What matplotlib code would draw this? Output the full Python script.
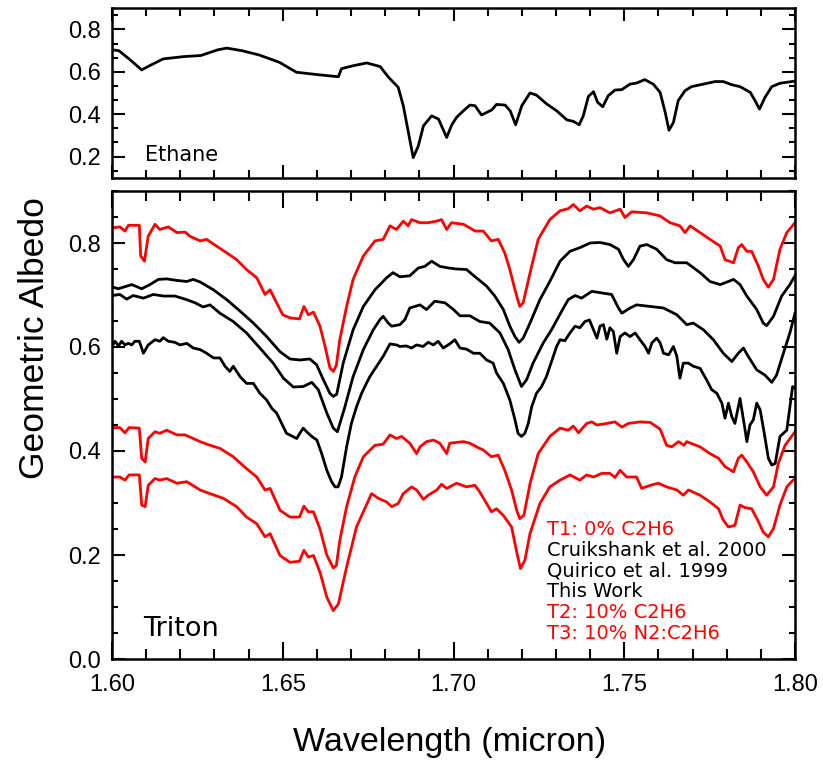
import numpy as np
import matplotlib
matplotlib.use("Agg")
import matplotlib.pyplot as plt
from matplotlib.ticker import MultipleLocator, AutoMinorLocator

ethane = [(1.600, 0.704), (1.602, 0.700), (1.605, 0.661), (1.6087, 0.609), (1.611, 0.629),
          (1.615, 0.661), (1.621, 0.672), (1.626, 0.677), (1.631, 0.704), (1.6336, 0.712),
          (1.638, 0.700), (1.643, 0.680), (1.649, 0.645), (1.654, 0.598), (1.660, 0.587),
          (1.6655, 0.578), (1.6663, 0.577), (1.6672, 0.615), (1.6707, 0.629), (1.6746, 0.642),
          (1.6785, 0.625), (1.681, 0.574), (1.6838, 0.527), (1.6853, 0.440), (1.6868, 0.313),
          (1.6882, 0.195), (1.6897, 0.250), (1.6912, 0.345), (1.6936, 0.392), (1.6956, 0.377),
          (1.698, 0.290), (1.6995, 0.350), (1.7009, 0.385), (1.7029, 0.416), (1.7048, 0.443),
          (1.7063, 0.440), (1.7082, 0.396), (1.7097, 0.408), (1.7112, 0.420), (1.7126, 0.446),
          (1.7151, 0.443), (1.7166, 0.416), (1.7182, 0.350), (1.720, 0.440), (1.7224, 0.500),
          (1.7243, 0.490), (1.7273, 0.448), (1.7302, 0.416), (1.7332, 0.373), (1.7351, 0.366),
          (1.7368, 0.350), (1.738, 0.392), (1.7395, 0.484), (1.741, 0.506), (1.7422, 0.456),
          (1.7437, 0.435), (1.7453, 0.487), (1.7473, 0.514), (1.7493, 0.516), (1.7517, 0.542),
          (1.7536, 0.547), (1.756, 0.563), (1.7585, 0.542), (1.7605, 0.503), (1.762, 0.408),
          (1.7631, 0.324), (1.7644, 0.361), (1.7658, 0.464), (1.7678, 0.511), (1.7697, 0.530),
          (1.7732, 0.542), (1.7766, 0.554), (1.779, 0.554), (1.7815, 0.539), (1.7839, 0.530),
          (1.7869, 0.503), (1.7883, 0.464), (1.7896, 0.424), (1.7912, 0.479), (1.7932, 0.530),
          (1.7956, 0.546), (1.7995, 0.555), (1.800, 0.556)]

t1 = [(1.600, 0.829), (1.6023, 0.831), (1.6038, 0.823), (1.6048, 0.834), (1.608, 0.834),
      (1.6084, 0.775), (1.6095, 0.765), (1.6106, 0.813), (1.6126, 0.836), (1.614, 0.826),
      (1.6165, 0.831), (1.619, 0.820), (1.6214, 0.821), (1.6228, 0.813), (1.6258, 0.804),
      (1.6277, 0.807), (1.6306, 0.794), (1.6336, 0.781), (1.6365, 0.768), (1.6394, 0.749),
      (1.6424, 0.733), (1.6448, 0.701), (1.6463, 0.710), (1.6482, 0.685), (1.650, 0.662),
      (1.6521, 0.656), (1.6549, 0.654), (1.6562, 0.678), (1.6575, 0.662), (1.659, 0.667),
      (1.6609, 0.640), (1.6624, 0.601), (1.6638, 0.560), (1.6648, 0.553), (1.6657, 0.565),
      (1.6667, 0.614), (1.6687, 0.678), (1.6706, 0.730), (1.6736, 0.775), (1.677, 0.804),
      (1.6794, 0.807), (1.6814, 0.833), (1.6833, 0.826), (1.6853, 0.842), (1.6867, 0.833),
      (1.6877, 0.845), (1.6902, 0.839), (1.6926, 0.839), (1.695, 0.842), (1.6965, 0.845),
      (1.698, 0.826), (1.6994, 0.839), (1.7029, 0.836), (1.7048, 0.829), (1.7063, 0.823),
      (1.7087, 0.823), (1.7111, 0.804), (1.7131, 0.807), (1.715, 0.781), (1.7165, 0.749),
      (1.718, 0.710), (1.7194, 0.678), (1.7204, 0.685), (1.7224, 0.742), (1.7248, 0.807),
      (1.7282, 0.845), (1.7312, 0.862), (1.7336, 0.866), (1.7351, 0.874), (1.737, 0.862),
      (1.739, 0.871), (1.741, 0.865), (1.7429, 0.868), (1.7458, 0.858), (1.7488, 0.865),
      (1.7502, 0.849), (1.7522, 0.860), (1.7566, 0.858), (1.7605, 0.852), (1.7634, 0.839),
      (1.7663, 0.833), (1.7678, 0.820), (1.7693, 0.833), (1.7722, 0.820), (1.7751, 0.807),
      (1.7781, 0.794), (1.7795, 0.768), (1.782, 0.762), (1.7834, 0.791), (1.7844, 0.797),
      (1.7859, 0.784), (1.7873, 0.784), (1.7893, 0.755), (1.7907, 0.730), (1.7922, 0.715),
      (1.7937, 0.730), (1.7956, 0.788), (1.7976, 0.820), (1.800, 0.839)]

cruikshank = [(1.600, 0.716), (1.6018, 0.712), (1.6038, 0.716), (1.6058, 0.720), (1.6087, 0.712),
              (1.6111, 0.720), (1.6136, 0.730), (1.616, 0.731), (1.619, 0.728), (1.6219, 0.726),
              (1.6238, 0.730), (1.6258, 0.725), (1.6297, 0.710), (1.6336, 0.691), (1.6375, 0.669),
              (1.6414, 0.646), (1.6453, 0.620), (1.6492, 0.591), (1.6521, 0.577), (1.655, 0.575),
              (1.6579, 0.577), (1.6599, 0.566), (1.6619, 0.537), (1.6638, 0.511), (1.6648, 0.505),
              (1.6658, 0.509), (1.6677, 0.569), (1.6706, 0.633), (1.6736, 0.678), (1.677, 0.710),
              (1.6804, 0.733), (1.6823, 0.743), (1.6843, 0.735), (1.6872, 0.737), (1.6897, 0.752),
              (1.6916, 0.755), (1.6936, 0.765), (1.696, 0.755), (1.6985, 0.752), (1.7009, 0.750),
              (1.7038, 0.749), (1.7067, 0.733), (1.7097, 0.717), (1.7121, 0.698), (1.7146, 0.672),
              (1.7165, 0.640), (1.718, 0.620), (1.7192, 0.609), (1.7204, 0.617), (1.7224, 0.646),
              (1.7253, 0.691), (1.7282, 0.726), (1.7312, 0.765), (1.7341, 0.784), (1.737, 0.791),
              (1.740, 0.800), (1.7429, 0.801), (1.7458, 0.797), (1.7483, 0.788), (1.7498, 0.768),
              (1.7512, 0.755), (1.7527, 0.768), (1.7546, 0.794), (1.7566, 0.797), (1.7595, 0.788),
              (1.7624, 0.768), (1.7649, 0.762), (1.7683, 0.762), (1.7722, 0.743), (1.7751, 0.726),
              (1.7781, 0.720), (1.7805, 0.726), (1.782, 0.730), (1.7839, 0.720), (1.7859, 0.698),
              (1.7888, 0.672), (1.7907, 0.646), (1.7917, 0.641), (1.7937, 0.659), (1.7961, 0.698),
              (1.7985, 0.720), (1.800, 0.737)]

quirico = [(1.600, 0.699), (1.6023, 0.701), (1.6043, 0.692), (1.6062, 0.699), (1.6092, 0.694),
           (1.6121, 0.701), (1.615, 0.698), (1.6184, 0.698), (1.6219, 0.691), (1.6243, 0.685),
           (1.6267, 0.677), (1.6287, 0.681), (1.6316, 0.665), (1.6355, 0.649), (1.6394, 0.627),
           (1.6433, 0.598), (1.6472, 0.569), (1.6502, 0.540), (1.6531, 0.523), (1.656, 0.524),
           (1.6585, 0.532), (1.6604, 0.518), (1.6629, 0.473), (1.6648, 0.444), (1.666, 0.437),
           (1.6682, 0.485), (1.6706, 0.543), (1.6736, 0.595), (1.6765, 0.633), (1.6785, 0.653),
           (1.6794, 0.659), (1.6809, 0.646), (1.6819, 0.640), (1.6843, 0.643), (1.6858, 0.653),
           (1.6872, 0.675), (1.6902, 0.681), (1.6921, 0.672), (1.6945, 0.688), (1.6975, 0.685),
           (1.700, 0.672), (1.7019, 0.660), (1.7048, 0.660), (1.7077, 0.649), (1.7106, 0.646),
           (1.7136, 0.627), (1.716, 0.595), (1.718, 0.556), (1.7199, 0.524), (1.7214, 0.537),
           (1.7233, 0.569), (1.7263, 0.608), (1.7287, 0.633), (1.7316, 0.668), (1.7336, 0.691),
           (1.7356, 0.699), (1.7375, 0.694), (1.7405, 0.707), (1.7434, 0.704), (1.7463, 0.701),
           (1.7483, 0.675), (1.7493, 0.665), (1.7517, 0.675), (1.7536, 0.681), (1.7576, 0.678),
           (1.7615, 0.675), (1.7654, 0.662), (1.7683, 0.643), (1.7702, 0.646), (1.7732, 0.633),
           (1.7761, 0.614), (1.779, 0.588), (1.7815, 0.572), (1.7834, 0.588), (1.7849, 0.598),
           (1.7863, 0.582), (1.7888, 0.556), (1.7912, 0.546), (1.7932, 0.532), (1.7946, 0.546),
           (1.7966, 0.588), (1.7985, 0.627), (1.800, 0.665)]

this_work = [(1.600, 0.601), (1.6009, 0.611), (1.6019, 0.602), (1.6028, 0.611), (1.6038, 0.604),
             (1.6048, 0.607), (1.6058, 0.604), (1.6067, 0.611), (1.608, 0.611), (1.6092, 0.588),
             (1.6106, 0.604), (1.6126, 0.614), (1.614, 0.611), (1.615, 0.618), (1.6165, 0.611),
             (1.6184, 0.609), (1.6199, 0.604), (1.6219, 0.607), (1.6238, 0.598), (1.6258, 0.595),
             (1.6277, 0.588), (1.6297, 0.579), (1.6316, 0.579), (1.6331, 0.563), (1.6345, 0.553),
             (1.6355, 0.563), (1.6375, 0.543), (1.6394, 0.530), (1.6414, 0.530), (1.6433, 0.511),
             (1.6453, 0.498), (1.6468, 0.482), (1.6482, 0.473), (1.6497, 0.453), (1.6511, 0.434),
             (1.6526, 0.429), (1.6541, 0.424), (1.655, 0.434), (1.656, 0.444), (1.657, 0.437),
             (1.6585, 0.428), (1.660, 0.421), (1.6614, 0.395), (1.6629, 0.363), (1.6643, 0.341),
             (1.6653, 0.331), (1.6662, 0.331), (1.6672, 0.350), (1.6687, 0.408), (1.6701, 0.453),
             (1.6716, 0.485), (1.6731, 0.511), (1.6745, 0.530), (1.6755, 0.543), (1.6775, 0.563),
             (1.6794, 0.582), (1.6814, 0.606), (1.6833, 0.604), (1.6843, 0.601), (1.6862, 0.602),
             (1.6877, 0.598), (1.6892, 0.604), (1.6911, 0.601), (1.6926, 0.609), (1.6941, 0.604),
             (1.6955, 0.611), (1.697, 0.598), (1.6989, 0.606), (1.7004, 0.614), (1.7019, 0.598),
             (1.7038, 0.596), (1.7058, 0.588), (1.7077, 0.588), (1.7097, 0.575), (1.7116, 0.569),
             (1.7126, 0.550), (1.7146, 0.530), (1.7165, 0.498), (1.718, 0.460), (1.7189, 0.434),
             (1.7199, 0.428), (1.7209, 0.434), (1.7219, 0.453), (1.7229, 0.485), (1.7243, 0.511),
             (1.7258, 0.524), (1.7272, 0.543), (1.7287, 0.572), (1.7302, 0.601), (1.7312, 0.614),
             (1.7326, 0.612), (1.7341, 0.627), (1.7356, 0.640), (1.737, 0.637), (1.7385, 0.649),
             (1.7398, 0.652), (1.741, 0.633), (1.742, 0.617), (1.7429, 0.640), (1.7439, 0.643),
             (1.7449, 0.615), (1.7458, 0.637), (1.7468, 0.630), (1.7478, 0.588), (1.7488, 0.620),
             (1.7502, 0.627), (1.7517, 0.620), (1.7532, 0.627), (1.7546, 0.614), (1.7561, 0.601),
             (1.7571, 0.588), (1.7581, 0.608), (1.7595, 0.617), (1.7605, 0.608), (1.7615, 0.588),
             (1.763, 0.585), (1.7644, 0.601), (1.7654, 0.582), (1.7663, 0.540), (1.7673, 0.569),
             (1.7688, 0.569), (1.7702, 0.563), (1.7722, 0.559), (1.7741, 0.537), (1.7756, 0.518),
             (1.7771, 0.511), (1.7786, 0.492), (1.7795, 0.463), (1.7805, 0.492), (1.7815, 0.466),
             (1.7824, 0.453), (1.7839, 0.501), (1.7854, 0.440), (1.7859, 0.418), (1.7868, 0.450),
             (1.7878, 0.460), (1.7888, 0.492), (1.7898, 0.479), (1.791, 0.434), (1.7922, 0.386),
             (1.7932, 0.373), (1.7942, 0.376), (1.7956, 0.428), (1.7966, 0.434), (1.7976, 0.440),
             (1.7985, 0.485), (1.7993, 0.524), (1.800, 0.521)]

t2 = [(1.600, 0.445), (1.6023, 0.445), (1.6038, 0.435), (1.605, 0.445), (1.608, 0.444),
      (1.6087, 0.386), (1.6097, 0.379), (1.6106, 0.424), (1.6126, 0.437), (1.614, 0.434),
      (1.616, 0.440), (1.619, 0.431), (1.6214, 0.431), (1.6258, 0.418), (1.6287, 0.411),
      (1.6316, 0.405), (1.6355, 0.389), (1.6394, 0.366), (1.6424, 0.350), (1.6448, 0.325),
      (1.6463, 0.328), (1.6492, 0.286), (1.6521, 0.273), (1.6549, 0.273), (1.6562, 0.294),
      (1.6575, 0.283), (1.659, 0.283), (1.6609, 0.250), (1.6629, 0.200), (1.6648, 0.175),
      (1.6657, 0.180), (1.6667, 0.228), (1.6687, 0.293), (1.6711, 0.350), (1.6736, 0.389),
      (1.677, 0.411), (1.6794, 0.413), (1.6814, 0.431), (1.6833, 0.424), (1.6848, 0.428),
      (1.6872, 0.415), (1.6892, 0.395), (1.6902, 0.408), (1.6921, 0.418), (1.6941, 0.421),
      (1.696, 0.415), (1.698, 0.395), (1.6989, 0.415), (1.7029, 0.418), (1.7048, 0.415),
      (1.7067, 0.408), (1.7087, 0.402), (1.7111, 0.389), (1.7131, 0.392), (1.715, 0.363),
      (1.717, 0.325), (1.7185, 0.286), (1.7194, 0.270), (1.7206, 0.276), (1.7224, 0.337),
      (1.7248, 0.395), (1.7282, 0.428), (1.7312, 0.444), (1.7336, 0.440), (1.7351, 0.448),
      (1.7366, 0.435), (1.739, 0.453), (1.7405, 0.456), (1.742, 0.450), (1.7449, 0.453),
      (1.7473, 0.456), (1.7493, 0.446), (1.7512, 0.453), (1.7546, 0.456), (1.7576, 0.455),
      (1.7605, 0.442), (1.7624, 0.411), (1.7639, 0.408), (1.7659, 0.418), (1.7675, 0.411),
      (1.7683, 0.418), (1.7722, 0.408), (1.7751, 0.395), (1.7776, 0.386), (1.7795, 0.370),
      (1.782, 0.360), (1.7834, 0.386), (1.7844, 0.392), (1.7859, 0.379), (1.7878, 0.360),
      (1.7898, 0.331), (1.7917, 0.315), (1.7937, 0.331), (1.7951, 0.376), (1.7971, 0.411),
      (1.800, 0.437)]

t3 = [(1.600, 0.350), (1.6023, 0.350), (1.6038, 0.344), (1.605, 0.354), (1.608, 0.354),
      (1.6087, 0.296), (1.6097, 0.293), (1.6106, 0.334), (1.6126, 0.347), (1.614, 0.344),
      (1.616, 0.347), (1.619, 0.338), (1.6219, 0.341), (1.6258, 0.325), (1.6287, 0.318),
      (1.6326, 0.309), (1.6365, 0.293), (1.6394, 0.273), (1.6424, 0.260), (1.6448, 0.235),
      (1.6463, 0.241), (1.6492, 0.199), (1.6521, 0.186), (1.6549, 0.188), (1.6562, 0.209),
      (1.6575, 0.196), (1.659, 0.199), (1.6609, 0.167), (1.6629, 0.119), (1.6648, 0.093),
      (1.6663, 0.106), (1.6687, 0.177), (1.6716, 0.254), (1.676, 0.318), (1.678, 0.309),
      (1.6804, 0.302), (1.6819, 0.293), (1.6838, 0.299), (1.6853, 0.318), (1.6877, 0.331),
      (1.6892, 0.325), (1.6912, 0.307), (1.6926, 0.315), (1.6951, 0.325), (1.6965, 0.336),
      (1.698, 0.328), (1.7009, 0.338), (1.7038, 0.331), (1.7063, 0.334), (1.7077, 0.321),
      (1.7097, 0.299), (1.7111, 0.283), (1.7126, 0.289), (1.7146, 0.276), (1.717, 0.254),
      (1.7185, 0.206), (1.7196, 0.174), (1.7209, 0.190), (1.7224, 0.241), (1.7253, 0.299),
      (1.7282, 0.331), (1.7312, 0.344), (1.7341, 0.354), (1.737, 0.344), (1.739, 0.354),
      (1.741, 0.350), (1.7434, 0.357), (1.7458, 0.357), (1.7473, 0.349), (1.7488, 0.363),
      (1.7507, 0.350), (1.7536, 0.350), (1.7551, 0.328), (1.7576, 0.334), (1.760, 0.338),
      (1.7624, 0.331), (1.7654, 0.325), (1.7673, 0.315), (1.7688, 0.325), (1.7722, 0.315),
      (1.7751, 0.302), (1.7776, 0.289), (1.779, 0.267), (1.7805, 0.254), (1.7824, 0.257),
      (1.7839, 0.296), (1.7854, 0.291), (1.7873, 0.289), (1.7893, 0.264), (1.7907, 0.244),
      (1.7922, 0.235), (1.7937, 0.251), (1.7956, 0.296), (1.7976, 0.331), (1.799, 0.341),
      (1.800, 0.347)]

legend_labels = ["T1: 0% C2H6", "Cruikshank et al. 2000", "Quirico et al. 1999",
                 "This Work", "T2: 10% C2H6", "T3: 10% N2:C2H6"]
legend_colors = ["red", "black", "black", "black", "red", "red"]

tick_font = "Liberation Sans"
lw = 2.0

fig = plt.figure(figsize=(8.23, 7.63), dpi=100)
ax_top = fig.add_axes([112 / 823, 1 - 177.7 / 763, 683 / 823, 169.4 / 763])
ax_bot = fig.add_axes([112 / 823, 1 - 659 / 763, 683 / 823, 468 / 763])

# ethane reference spectrum
wl, alb = np.array(ethane).T
ax_top.plot(wl, alb, color="black", lw=lw)
ax_top.set_xlim(1.60, 1.80)
ax_top.set_ylim(0.1, 0.9)
ax_top.yaxis.set_major_locator(MultipleLocator(0.2))
ax_top.yaxis.set_minor_locator(AutoMinorLocator(3))
ax_top.xaxis.set_major_locator(MultipleLocator(0.05))
ax_top.xaxis.set_minor_locator(AutoMinorLocator(5))
ax_top.set_xticklabels([])
ax_top.tick_params(axis="x", which="major", length=9.5)
ax_top.tick_params(axis="x", which="minor", length=5.5)
ax_top.text(1.6097, 0.18, "Ethane", fontsize=15, family="DejaVu Sans")

# Triton spectra and models
for data, col in zip([t1, cruikshank, quirico, this_work, t2, t3], legend_colors):
    wl, alb = np.array(data).T
    ax_bot.plot(wl, alb, color=col, lw=lw)
ax_bot.set_xlim(1.60, 1.80)
ax_bot.set_ylim(0.0, 0.9)
ax_bot.yaxis.set_major_locator(MultipleLocator(0.2))
ax_bot.yaxis.set_minor_locator(AutoMinorLocator(4))
ax_bot.xaxis.set_major_locator(MultipleLocator(0.05))
ax_bot.xaxis.set_minor_locator(AutoMinorLocator(5))
ax_bot.xaxis.set_major_formatter(plt.FuncFormatter(lambda v, p: f"{v:.2f}"))
ax_bot.tick_params(axis="x", which="major", length=12.5, pad=11)
ax_bot.tick_params(axis="x", which="minor", length=7)
ax_bot.text(1.6091, 0.045, "Triton", fontsize=19.5, family="DejaVu Sans")

for i, (lab, col) in enumerate(zip(legend_labels, legend_colors)):
    ax_bot.text(1.7274, 0.238 - i * 0.0398, lab, color=col, fontsize=14,
                family="DejaVu Sans")

for ax in (ax_top, ax_bot):
    ax.yaxis.set_major_formatter(plt.FuncFormatter(lambda v, p: f"{v:.1f}"))
    ax.tick_params(which="both", direction="in", top=True, right=True, width=1.5,
                   labelsize=17)
    ax.tick_params(axis="y", which="major", length=9.5, pad=8)
    ax.tick_params(axis="y", which="minor", length=4.5)
    for lbl in ax.get_xticklabels() + ax.get_yticklabels():
        lbl.set_family(tick_font)
    for sp in ax.spines.values():
        sp.set_linewidth(1.8)

fig.text(35 / 823, 1 - 338 / 763, "Geometric Albedo", rotation=90, fontsize=25.5,
         family=tick_font, ha="center", va="center")
fig.text(450 / 823, 1 - 742 / 763, "Wavelength (micron)", fontsize=24.5,
         family=tick_font, ha="center", va="center")

fig.savefig("out.png", dpi=100)
